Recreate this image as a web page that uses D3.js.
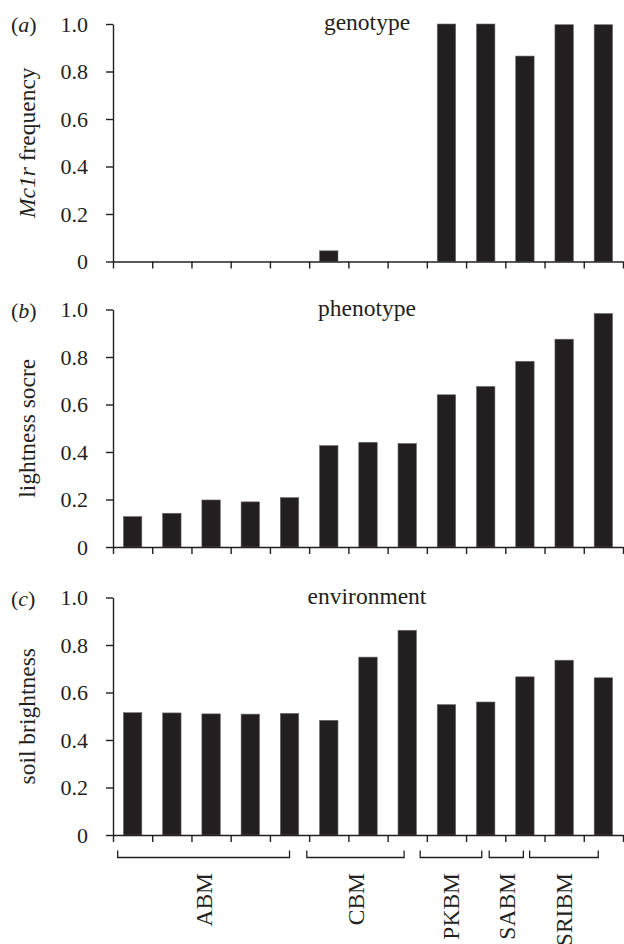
<!DOCTYPE html>
<html>
<head>
<meta charset="utf-8">
<script src="https://cdn.jsdelivr.net/npm/d3@7"></script>
<style>
  body { margin: 0; background: #fff; }
  text { font-family: "Liberation Serif", "Times New Roman", serif; fill: #231f20; }
  .axis path, .axis line { stroke: #231f20; stroke-width: 1.4; }
  .axis text { font-size: 22px; }
</style>
</head>
<body>
<div id="chart-container"></div>
<script>
// populations, in plotted order
const categories = ['ABM1', 'ABM2', 'ABM3', 'ABM4', 'ABM5', 'CBM1', 'CBM2', 'CBM3',
  'PKBM1', 'PKBM2', 'SABM1', 'SRIBM1', 'SRIBM2']

const genotype = [0, 0, 0, 0, 0, 0.045, 0, 0, 1.0, 1.0, 0.865, 0.997, 0.997]
const phenotype = [0.128, 0.142, 0.198, 0.19, 0.208, 0.427, 0.441, 0.436, 0.641, 0.676, 0.782, 0.875, 0.983]
const environment = [0.515, 0.514, 0.51, 0.509, 0.512, 0.483, 0.749, 0.862, 0.549, 0.56, 0.666, 0.736, 0.662]

const yTicks = [0, 0.2, 0.4, 0.6, 0.8, 1.0]

// region brackets, in category units along the x axis
const groupNames = ['ABM', 'CBM', 'PKBM', 'SABM', 'SRIBM']
const groupFrom = [0.12, 4.94, 7.83, 9.59, 10.62]
const groupTo = [4.5, 7.42, 9.4, 10.46, 12.37]

const panels = [
  { letter: 'a', title: 'genotype', values: genotype, top: 24 },
  { letter: 'b', title: 'phenotype', values: phenotype, top: 309.5 },
  { letter: 'c', title: 'environment', values: environment, top: 597.5 }
]

const W = 624, H = 944
const left = 113, right = 623
const ph = 237.5
const ink = '#231f20'

const svg = d3.select('#chart-container').append('svg')
  .attr('width', W).attr('height', H)

const x = d3.scaleBand()
  .domain(categories)
  .range([left, right])
  .paddingInner(0.53)
  .paddingOuter(0.265)

const xu = d3.scaleLinear()
  .domain([0, categories.length])
  .range([left, right])

panels.forEach(p => {
  const y = d3.scaleLinear().domain([0, 1]).range([p.top + ph, p.top])
  const g = svg.append('g')

  g.selectAll('rect')
    .data(p.values.map((v, i) => ({ c: categories[i], v })).filter(d => d.v > 0))
    .join('rect')
    .attr('x', d => x(d.c))
    .attr('width', x.bandwidth())
    .attr('y', d => y(d.v))
    .attr('height', d => y(0) - y(d.v))
    .attr('fill', ink)
    .attr('stroke', '#6d6b6c')
    .attr('stroke-width', 0.6)

  g.append('g').attr('class', 'axis')
    .attr('transform', `translate(0,${y(0)})`)
    .call(d3.axisBottom(xu).ticks(categories.length).tickFormat('').tickSize(7).tickSizeOuter(0))

  g.append('g').attr('class', 'axis')
    .attr('transform', `translate(${left},0)`)
    .call(d3.axisLeft(y).tickValues(yTicks)
      .tickFormat(d => d === 0 ? '0' : d3.format('.1f')(d))
      .tickSize(7).tickSizeOuter(0).tickPadding(18))
    .call(a => a.selectAll('text').attr('dy', '0.34em'))

  // panel letter
  const lt = g.append('text')
    .attr('x', 11).attr('y', p.top + 8)
    .attr('font-size', 22)
  lt.append('tspan').text('(')
  lt.append('tspan').attr('font-style', 'italic').text(p.letter)
  lt.append('tspan').text(')')

  g.append('text')
    .attr('x', 367).attr('y', p.top + 6)
    .attr('text-anchor', 'middle')
    .attr('font-size', 23.5)
    .text(p.title)

  const yl = g.append('text')
    .attr('transform', `translate(35,${(y(0) + y(1)) / 2}) rotate(-90)`)
    .attr('text-anchor', 'middle')
    .attr('font-size', 23.5)
  if (p.letter === 'a') {
    yl.append('tspan').attr('font-style', 'italic').text('Mc1r')
    yl.append('tspan').text(' frequency')
  } else {
    yl.text(p.letter === 'b' ? 'lightness socre' : 'soil brightness')
  }
})

// region brackets and names
const by = 857.5
const br = svg.append('g')
br.selectAll('path')
  .data(groupNames.map((n, i) => ({ n, a: groupFrom[i], b: groupTo[i] })))
  .join('path')
  .attr('d', d => `M${xu(d.a)},${by - 7}V${by}H${xu(d.b)}V${by - 7}`)
  .attr('fill', 'none')
  .attr('stroke', ink)
  .attr('stroke-width', 1.3)

br.selectAll('text')
  .data(groupNames.map((n, i) => ({ n, m: (groupFrom[i] + groupTo[i]) / 2 })))
  .join('text')
  .attr('transform', d => `translate(${xu(d.m)},873) rotate(-90)`)
  .attr('text-anchor', 'end')
  .attr('dy', '0.35em')
  .attr('font-size', 23.5)
  .text(d => d.n)
</script>
</body>
</html>
